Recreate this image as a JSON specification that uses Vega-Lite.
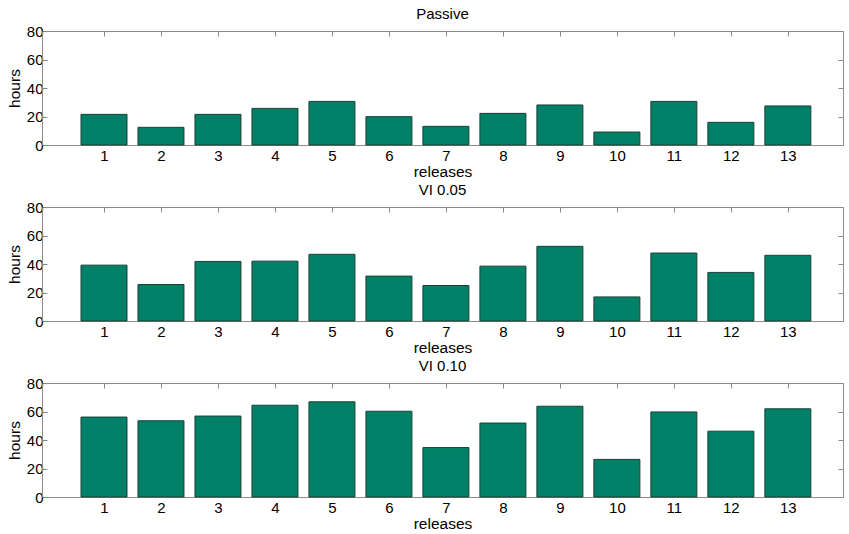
{
  "$schema": "https://vega.github.io/schema/vega-lite/v6.json",
  "padding": {"left": 7, "top": 7, "right": 0, "bottom": 0},
  "background": "white",
  "datasets": {
    "d": [
      {"panel": "Passive", "release": 1, "hours": 21.5},
      {"panel": "Passive", "release": 2, "hours": 12.4},
      {"panel": "Passive", "release": 3, "hours": 21.5},
      {"panel": "Passive", "release": 4, "hours": 25.7},
      {"panel": "Passive", "release": 5, "hours": 30.6},
      {"panel": "Passive", "release": 6, "hours": 19.9},
      {"panel": "Passive", "release": 7, "hours": 13.1},
      {"panel": "Passive", "release": 8, "hours": 22.2},
      {"panel": "Passive", "release": 9, "hours": 28.1},
      {"panel": "Passive", "release": 10, "hours": 9.1},
      {"panel": "Passive", "release": 11, "hours": 30.6},
      {"panel": "Passive", "release": 12, "hours": 15.9},
      {"panel": "Passive", "release": 13, "hours": 27.4},
      {"panel": "VI 0.05", "release": 1, "hours": 39.2},
      {"panel": "VI 0.05", "release": 2, "hours": 25.6},
      {"panel": "VI 0.05", "release": 3, "hours": 41.8},
      {"panel": "VI 0.05", "release": 4, "hours": 42.0},
      {"panel": "VI 0.05", "release": 5, "hours": 46.8},
      {"panel": "VI 0.05", "release": 6, "hours": 31.5},
      {"panel": "VI 0.05", "release": 7, "hours": 24.9},
      {"panel": "VI 0.05", "release": 8, "hours": 38.5},
      {"panel": "VI 0.05", "release": 9, "hours": 52.4},
      {"panel": "VI 0.05", "release": 10, "hours": 16.9},
      {"panel": "VI 0.05", "release": 11, "hours": 47.7},
      {"panel": "VI 0.05", "release": 12, "hours": 34.1},
      {"panel": "VI 0.05", "release": 13, "hours": 46.1},
      {"panel": "VI 0.10", "release": 1, "hours": 56.1},
      {"panel": "VI 0.10", "release": 2, "hours": 53.5},
      {"panel": "VI 0.10", "release": 3, "hours": 56.8},
      {"panel": "VI 0.10", "release": 4, "hours": 64.4},
      {"panel": "VI 0.10", "release": 5, "hours": 66.8},
      {"panel": "VI 0.10", "release": 6, "hours": 60.2},
      {"panel": "VI 0.10", "release": 7, "hours": 34.7},
      {"panel": "VI 0.10", "release": 8, "hours": 51.9},
      {"panel": "VI 0.10", "release": 9, "hours": 63.7},
      {"panel": "VI 0.10", "release": 10, "hours": 26.4},
      {"panel": "VI 0.10", "release": 11, "hours": 59.7},
      {"panel": "VI 0.10", "release": 12, "hours": 46.2},
      {"panel": "VI 0.10", "release": 13, "hours": 61.9}
    ]
  },
  "data": {"name": "d"},
  "spacing": 62,
  "bounds": "flush",
  "vconcat": [
    {
      "width": 801, "height": 114,
      "title": {"text": "Passive"},
      "transform": [{"filter": "datum.panel === 'Passive'"}],
      "layer": [
        {
          "mark": {"type": "bar", "size": 46, "fill": "#008066", "stroke": "#1d4037", "strokeWidth": 1},
          "encoding": {
            "x": {"field": "release", "type": "quantitative", "scale": {"domain": [0, 13.88], "nice": false, "zero": false},
                  "axis": {"orient": "bottom", "values": [1,2,3,4,5,6,7,8,9,10,11,12,13], "title": "releases", "ticks": false, "labelPadding": 3, "titlePadding": 1}},
            "y": {"field": "hours", "type": "quantitative", "scale": {"domain": [0, 80], "nice": false},
                  "axis": {"orient": "left", "values": [0,20,40,60,80], "title": "hours", "tickSize": -5, "labelPadding": 4, "titlePadding": 4}}
          }
        },
        {
          "mark": {"type": "bar", "size": 46, "opacity": 0},
          "encoding": {
            "x": {"field": "release", "type": "quantitative",
                  "axis": {"orient": "top", "values": [1,2,3,4,5,6,7,8,9,10,11,12,13], "title": null, "labels": false, "tickSize": -5, "labelPadding": 0}},
            "y": {"field": "hours", "type": "quantitative",
                  "axis": {"orient": "right", "values": [0,20,40,60,80], "title": null, "labels": false, "tickSize": -5, "labelPadding": 0}}
          }
        }
      ],
      "resolve": {"axis": {"x": "independent", "y": "independent"}}
    },
    {
      "width": 801, "height": 114,
      "title": {"text": "VI 0.05"},
      "transform": [{"filter": "datum.panel === 'VI 0.05'"}],
      "layer": [
        {
          "mark": {"type": "bar", "size": 46, "fill": "#008066", "stroke": "#1d4037", "strokeWidth": 1},
          "encoding": {
            "x": {"field": "release", "type": "quantitative", "scale": {"domain": [0, 13.88], "nice": false, "zero": false},
                  "axis": {"orient": "bottom", "values": [1,2,3,4,5,6,7,8,9,10,11,12,13], "title": "releases", "ticks": false, "labelPadding": 3, "titlePadding": 1}},
            "y": {"field": "hours", "type": "quantitative", "scale": {"domain": [0, 80], "nice": false},
                  "axis": {"orient": "left", "values": [0,20,40,60,80], "title": "hours", "tickSize": -5, "labelPadding": 4, "titlePadding": 4}}
          }
        },
        {
          "mark": {"type": "bar", "size": 46, "opacity": 0},
          "encoding": {
            "x": {"field": "release", "type": "quantitative",
                  "axis": {"orient": "top", "values": [1,2,3,4,5,6,7,8,9,10,11,12,13], "title": null, "labels": false, "tickSize": -5, "labelPadding": 0}},
            "y": {"field": "hours", "type": "quantitative",
                  "axis": {"orient": "right", "values": [0,20,40,60,80], "title": null, "labels": false, "tickSize": -5, "labelPadding": 0}}
          }
        }
      ],
      "resolve": {"axis": {"x": "independent", "y": "independent"}}
    },
    {
      "width": 801, "height": 114,
      "title": {"text": "VI 0.10"},
      "transform": [{"filter": "datum.panel === 'VI 0.10'"}],
      "layer": [
        {
          "mark": {"type": "bar", "size": 46, "fill": "#008066", "stroke": "#1d4037", "strokeWidth": 1},
          "encoding": {
            "x": {"field": "release", "type": "quantitative", "scale": {"domain": [0, 13.88], "nice": false, "zero": false},
                  "axis": {"orient": "bottom", "values": [1,2,3,4,5,6,7,8,9,10,11,12,13], "title": "releases", "ticks": false, "labelPadding": 3, "titlePadding": 1}},
            "y": {"field": "hours", "type": "quantitative", "scale": {"domain": [0, 80], "nice": false},
                  "axis": {"orient": "left", "values": [0,20,40,60,80], "title": "hours", "tickSize": -5, "labelPadding": 4, "titlePadding": 4}}
          }
        },
        {
          "mark": {"type": "bar", "size": 46, "opacity": 0},
          "encoding": {
            "x": {"field": "release", "type": "quantitative",
                  "axis": {"orient": "top", "values": [1,2,3,4,5,6,7,8,9,10,11,12,13], "title": null, "labels": false, "tickSize": -5, "labelPadding": 0}},
            "y": {"field": "hours", "type": "quantitative",
                  "axis": {"orient": "right", "values": [0,20,40,60,80], "title": null, "labels": false, "tickSize": -5, "labelPadding": 0}}
          }
        }
      ],
      "resolve": {"axis": {"x": "independent", "y": "independent"}}
    }
  ],
  "config": {
    "font": "Liberation Sans",
    "view": {"stroke": null},
    "axis": {
      "grid": false,
      "domainColor": "#8c8c8c",
      "tickColor": "#8c8c8c",
      "labelColor": "#000000",
      "titleColor": "#000000",
      "labelFont": "Liberation Sans",
      "titleFont": "Liberation Sans",
      "labelFontSize": 15,
      "titleFontSize": 15.5,
      "titleFontWeight": "normal"
    },
    "title": {
      "font": "Liberation Sans",
      "fontSize": 15,
      "fontWeight": "normal",
      "color": "#000000",
      "anchor": "middle",
      "frame": "group",
      "offset": 2
    }
  }
}
